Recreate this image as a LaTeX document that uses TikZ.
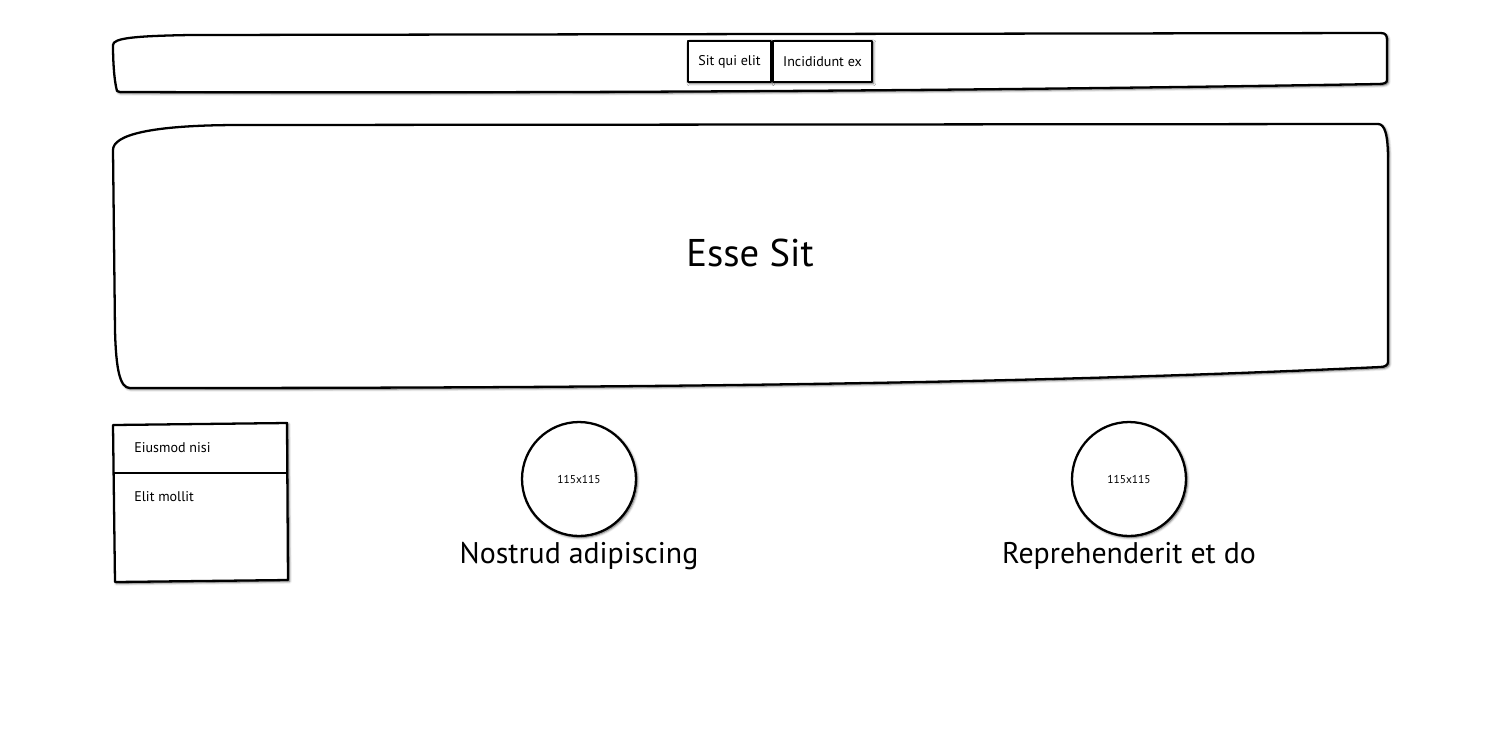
\documentclass[tikz,border=0pt]{standalone}
\usepackage{fontspec}
\setmainfont{PT Sans}
\usetikzlibrary{shadows.blur}
\tikzset{
    sketch/.style={draw,line width=1.3pt,fill=white,line join=round,
        blur shadow={shadow xshift=0.8pt,shadow yshift=-0.8pt,shadow blur radius=1.4pt,shadow opacity=70}},
    tab/.style={sketch,rectangle,minimum height=0.82cm,inner sep=0pt,font=\fontsize{8}{10}\selectfont},
    avatar/.style={sketch,circle,minimum size=2.28cm,inner sep=0pt,font=\fontsize{6.5}{8}\selectfont},
    item/.style={anchor=west,inner sep=0pt,font=\fontsize{8}{10}\selectfont},
    caption/.style={inner sep=0pt,font=\fontsize{17}{20}\selectfont}
}

\begin{document}
\begin{tikzpicture}[x=0.02cm,y=-0.02cm]
\useasboundingbox (0,0) rectangle (1500,752);
                        % header bar
                            \draw[sketch] (117,91) .. controls (114,80) and (113,60) .. (113,45)
                                .. controls (113,38) and (135,36) .. (190,35) -- (1381,33)
                                .. controls (1386,33) and (1387,36) .. (1387,40) -- (1387,80)
                                .. controls (1387,83) and (1384,84) .. (1378,84)
                                .. controls (900,92) and (500,93) .. (120,92) -- cycle;
                            \node[tab,minimum width=1.66cm] (tab1) at (729.5,61.5) {Sit qui elit};
                            \node[tab,minimum width=1.98cm] (tab2) at (822.5,61.5) {Incididunt ex};
                        % hero
                            \draw[sketch] (113,150) .. controls (113,135) and (150,125) .. (240,125) -- (1378,124)
                                .. controls (1385,124) and (1388,135) .. (1388,160) -- (1388,362)
                                .. controls (1388,365) and (1385,367) .. (1380,367)
                                .. controls (1000,385) and (600,388) .. (130,388)
                                .. controls (120,388) and (116,370) .. (115,330) -- cycle;
                            \node[caption,font=\fontsize{22}{26}\selectfont] (hero) at (750,253) {Esse Sit};
                        % list
                            \draw[sketch] (113,425) -- (287,423) -- (288,580) -- (115,582) -- cycle;
                            \draw[line width=1.3pt] (113,473) -- (288,473);
                            \node[item] (item1) at (134,448) {Eiusmod nisi};
                            \node[item] (item2) at (134,497) {Elit mollit};
                        % pictures
                            \node[avatar] (pic1) at (579,479) {115x115};
                            \node[avatar] (pic2) at (1129,479) {115x115};
                            \node[caption] (cap1) at (579,556) {Nostrud adipiscing};
                            \node[caption] (cap2) at (1129,556) {Reprehenderit et do};
                        \end{tikzpicture}
\end{document}
